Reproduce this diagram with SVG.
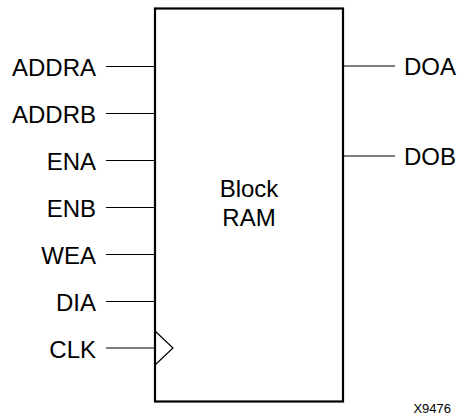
<svg xmlns="http://www.w3.org/2000/svg" width="457" height="418" viewBox="0 0 457 418">
<style>
.lbl{font-family:"Liberation Sans",Arial,sans-serif;font-size:24px;fill:#000}
.r{text-anchor:end}
.pin{stroke:#000;stroke-width:1.2;fill:none}
.box{stroke:#000;stroke-width:2.2;fill:#fff}
</style>
<rect width="457" height="418" fill="#fff"/>
<g id="block_ram">
<rect class="box" x="155" y="8.5" width="188" height="393"/>
<polyline class="pin" points="155,331 173,348 155,365"/>
<text class="lbl" x="249" y="197" text-anchor="middle" font-size="23">Block</text>
<text class="lbl" x="249" y="226" text-anchor="middle" font-size="23">RAM</text>
</g>
<g id="connectors">
<line class="pin" x1="106" y1="66.5" x2="155" y2="66.5"/>
<line class="pin" x1="106" y1="113.5" x2="155" y2="113.5"/>
<line class="pin" x1="106" y1="160.5" x2="155" y2="160.5"/>
<line class="pin" x1="106" y1="207.5" x2="155" y2="207.5"/>
<line class="pin" x1="106" y1="254.5" x2="155" y2="254.5"/>
<line class="pin" x1="106" y1="301.5" x2="155" y2="301.5"/>
<line class="pin" x1="106" y1="348" x2="155" y2="348"/>
<line class="pin" x1="343" y1="66" x2="395" y2="66"/>
<line class="pin" x1="343" y1="156" x2="395" y2="156"/>
</g>
<g id="pin_ADDRA"><text class="lbl r" x="96" y="76">ADDRA</text></g>
<g id="pin_ADDRB"><text class="lbl r" x="96" y="123">ADDRB</text></g>
<g id="pin_ENA"><text class="lbl r" x="96" y="170">ENA</text></g>
<g id="pin_ENB"><text class="lbl r" x="96" y="217">ENB</text></g>
<g id="pin_WEA"><text class="lbl r" x="96" y="264">WEA</text></g>
<g id="pin_DIA"><text class="lbl r" x="96" y="311">DIA</text></g>
<g id="pin_CLK"><text class="lbl r" x="96" y="357.5">CLK</text></g>
<g id="pin_DOA"><text class="lbl" x="404" y="75">DOA</text></g>
<g id="pin_DOB"><text class="lbl" x="404" y="165">DOB</text></g>
<text x="451" y="413" text-anchor="end" font-family="'Liberation Sans',Arial,sans-serif" font-size="13" fill="#000">X9476</text>
</svg>
